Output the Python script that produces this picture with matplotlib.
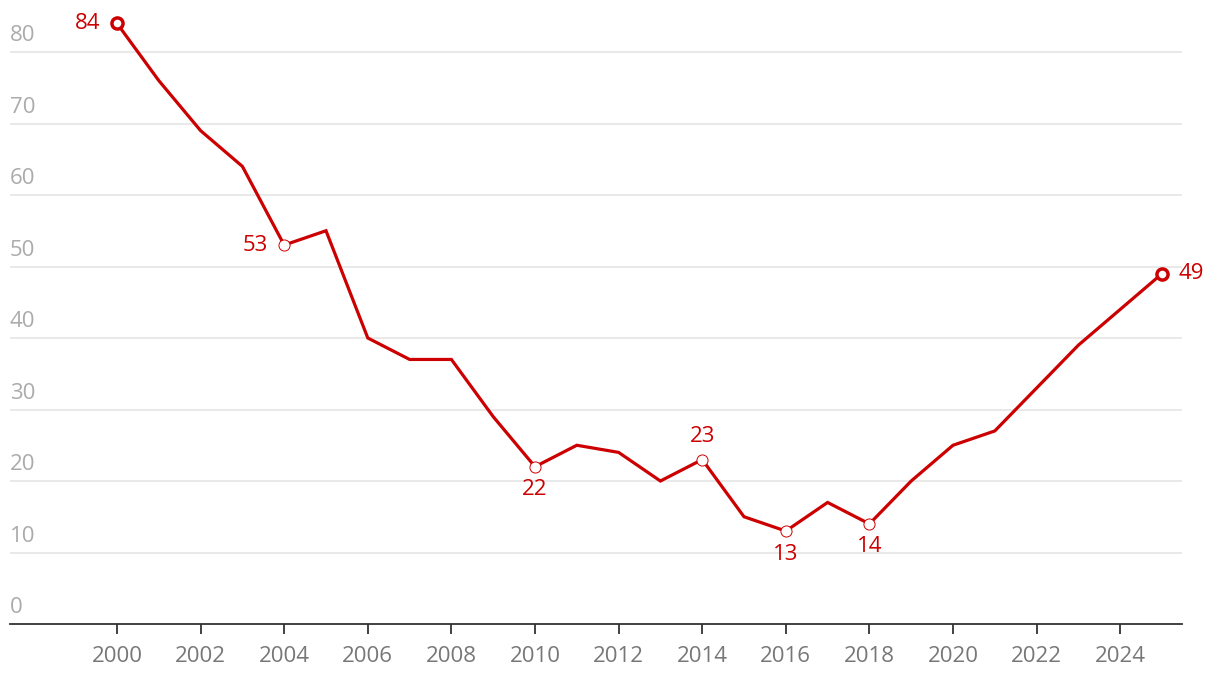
import matplotlib
matplotlib.use("Agg")
import matplotlib.pyplot as plt

years = list(range(2000, 2026))
values = [84, 76, 69, 64, 53, 55, 40, 37, 37, 29, 22, 25, 24, 20, 23,
          15, 13, 17, 14, 20, 25, 27, 33, 39, 44, 49]

# labelled points: (year, value, position)
labels = [(2000, 84, "left"), (2004, 53, "left"), (2010, 22, "below"),
          (2014, 23, "above"), (2016, 13, "below"), (2018, 14, "below"),
          (2025, 49, "right")]

y_ticks = [0, 10, 20, 30, 40, 50, 60, 70, 80]
x_ticks = list(range(2000, 2026, 2))

RED = "#cc0000"
plt.rcParams["font.family"] = ["Open Sans", "DejaVu Sans"]

W, H = 1220, 684
fig = plt.figure(figsize=(W / 100, H / 100), dpi=100)
ax = fig.add_axes([10 / W, (H - 624) / H, (1182 - 10) / W, 624 / H])

px_per_year = 41.8
ax.set_xlim(2000 - 107 / px_per_year, 2025 + 20 / px_per_year)
ax.set_ylim(0, 624 / 7.15)

for v in y_ticks[1:]:
    ax.axhline(v, color="#e3e3e3", lw=1.1, zorder=0)
for v in y_ticks:
    ax.annotate(str(v), (0, v), xycoords=("axes fraction", "data"),
                xytext=(0, 4), textcoords="offset points",
                ha="left", va="bottom", fontsize=16, color="#ababab")

ax.plot(years, values, color=RED, lw=2.3, zorder=3, solid_joinstyle="miter")

for yr, v, pos in labels:
    end = yr in (2000, 2025)
    ax.plot(yr, v, "o", ms=8, mfc="white", mec=RED,
            mew=2.5 if end else 0.7, zorder=4)
    off = {"left": (-12, 0), "right": (12, 0), "below": (0, -9), "above": (0, 9)}[pos]
    ha = {"left": "right", "right": "left", "below": "center", "above": "center"}[pos]
    va = {"left": "center", "right": "center", "below": "top", "above": "bottom"}[pos]
    ax.annotate(str(v), (yr, v), xytext=off, textcoords="offset points",
                ha=ha, va=va, fontsize=16, color=RED)

for s in ["top", "right", "left"]:
    ax.spines[s].set_visible(False)
ax.spines["bottom"].set_color("#333333")
ax.spines["bottom"].set_linewidth(1.3)
ax.set_yticks([])
ax.set_xticks(x_ticks)
ax.set_xticklabels([str(x) for x in x_ticks], fontsize=16, color="#777777")
ax.tick_params(axis="x", length=7, width=1.3, color="#333333", pad=9)

fig.savefig("out.png", dpi=100)
